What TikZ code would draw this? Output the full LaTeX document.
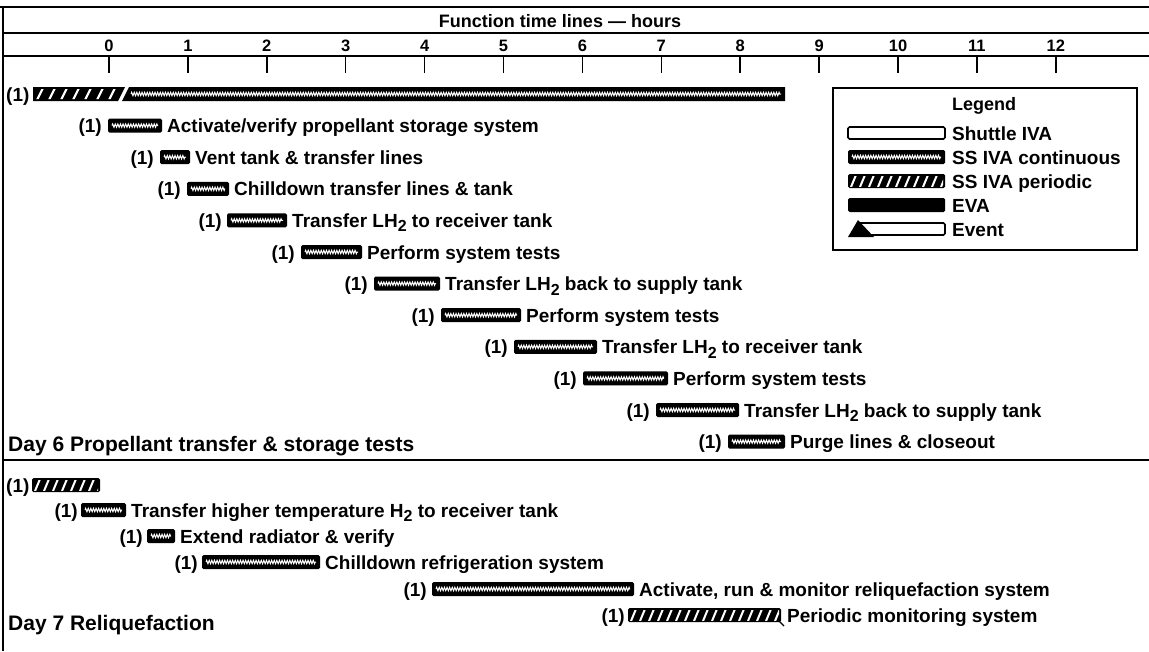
\documentclass[tikz,border=0pt]{standalone}
\usepackage{fontspec}
\setmainfont{Liberation Sans}
\usetikzlibrary{decorations.pathmorphing}
\newcommand\lowtwo{\raisebox{-0.45ex}{\fontsize{16}{16}\selectfont 2}}
\tikzset{
  rowtext/.style={anchor=base west, inner sep=0pt, font=\fontsize{19}{21}\selectfont\bfseries},
  onetext/.style={anchor=base east, inner sep=0pt, font=\fontsize{19}{21}\selectfont\bfseries},
  daytext/.style={anchor=base west, inner sep=0pt, font=\fontsize{21}{23}\selectfont\bfseries},
  numtext/.style={anchor=base, inner sep=0pt, font=\fontsize{16.5}{18}\selectfont\bfseries},
  legtext/.style={anchor=base west, inner sep=0pt, font=\fontsize{19}{21}\selectfont\bfseries},
  frameline/.style={line width=1.8pt},
}
% continuous bar: x1, x2, y
\newcommand\cbar[3]{%
  \fill[rounded corners=1.5pt] (#1,#3-7) rectangle (#2,#3+7);
  \draw[white,line width=1pt,decorate,decoration={zigzag,segment length=2.6pt,amplitude=1.7pt}]
     (#1+4,#3) -- (#2-4,#3);
}
% periodic bar: x1, x2, y
\newcommand\pbar[3]{%
  \fill[rounded corners=1.5pt] (#1,#3-7) rectangle (#2,#3+7);
  \begin{scope}
    \clip (#1+2,#3-5) rectangle (#2-2,#3+5);
    \pgfmathsetmacro\pa{#1+3}\pgfmathsetmacro\pb{#1+12}\pgfmathsetmacro\pc{#2}
    \foreach \xx in {\pa,\pb,...,\pc} \draw[white,line width=2pt] (\xx,#3+6) -- (\xx+5,#3-6);
  \end{scope}
}
% task row: name, gap before bar, bar start, bar end, y, text
\newcommand\task[6]{%
  \node[onetext] (#1l) at (#3-#2,#5+7) {(1)};
  \cbar{#3}{#4}{#5}
  \node[rowtext] (#1) at (#4+5,#5+7) {#6};
}
\begin{document}
\begin{tikzpicture}[x=1pt,y=-1pt]
\useasboundingbox (0,0) rectangle (1149,651);
% frame
\draw[line width=2.4pt] (0,7) -- (1149,7);
\draw[line width=2.4pt] (3,6) -- (3,651);
\draw[line width=1.2pt] (3,33) -- (1149,33);
\draw[frameline] (3,56) -- (1149,56);
\draw[frameline] (3,460) -- (1149,460);
\node[anchor=base, inner sep=0pt, font=\fontsize{18}{20}\selectfont\bfseries] (title) at (560,27) {Function time lines --- hours};
\foreach \h in {0,...,12} {
  \node[numtext] (n\h) at (109+78.9*\h,51) {\h};
  \draw[line width=1.5pt] (109+78.9*\h,56) -- (109+78.9*\h,73);
}
% row 1: periodic + continuous
\node[rowtext] (r1l) at (6,101) {(1)};
\fill (33,87) -- (125,87) -- (118,101) -- (33,101) -- cycle;
\begin{scope}
  \clip (35,89) -- (121,89) -- (115,99) -- (35,99) -- cycle;
  \foreach \xx in {37,49,...,121} \draw[white,line width=2.2pt] (\xx,100) -- (\xx+6,88);
\end{scope}
\fill (129,87) -- (785,87) -- (785,101) -- (122,101) -- cycle;
\draw[white,line width=1pt,decorate,decoration={zigzag,segment length=2.6pt,amplitude=1.7pt}] (131,94) -- (781,94);
% Day 6 tasks
\task{t1}{6}{108}{162}{125.6}{Activate/verify propellant storage system}
\task{t2}{6}{160}{190}{157.2}{Vent tank \& transfer lines}
\task{t3}{6}{187}{229}{188.8}{Chilldown transfer lines \& tank}
\task{t4}{5}{227}{287}{220.4}{Transfer LH\lowtwo{} to receiver tank}
\task{t5}{6}{301}{362}{252}{Perform system tests}
\task{t6}{6}{374}{440}{283.6}{Transfer LH\lowtwo{} back to supply tank}
\task{t7}{6}{441}{521}{315.2}{Perform system tests}
\task{t8}{6}{514}{597}{346.8}{Transfer LH\lowtwo{} to receiver tank}
\task{t9}{6}{583}{668}{378.4}{Perform system tests}
\task{t10}{6}{656}{739}{410}{Transfer LH\lowtwo{} back to supply tank}
\task{t11}{6}{728}{785}{441.6}{Purge lines \& closeout}
\node[daytext] (day6) at (8,451) {Day 6 Propellant transfer \& storage tests};
% legend
\draw[line width=1.6pt] (833,88) rectangle (1137,250);
\node[anchor=base west, inner sep=0pt, font=\fontsize{18}{20}\selectfont\bfseries] (legend) at (952,110) {Legend};
\draw[line width=1.6pt, rounded corners=1.5pt] (848,127) rectangle (945,139);
\node[legtext] (lg1) at (952,140) {Shuttle IVA};
\cbar{848}{945}{157}
\node[legtext] (lg2) at (952,164) {SS IVA continuous};
\pbar{848}{945}{181}
\node[legtext] (lg3) at (952,188) {SS IVA periodic};
\fill[rounded corners=1.5pt] (848,198) rectangle (945,212);
\node[legtext] (lg4) at (952,212) {EVA};
\draw[line width=1.6pt, rounded corners=1.5pt] (858,223) rectangle (945,235);
\fill (848,237) -- (858,220) -- (874,237) -- cycle;
\node[legtext] (lg5) at (952,236) {Event};
% Day 7
\node[rowtext] (p7l) at (6,492) {(1)};
\pbar{32}{100}{485}
\task{u1}{3}{81}{126}{510}{Transfer higher temperature H\lowtwo{} to receiver tank}
\task{u2}{4}{147}{175}{536}{Extend radiator \& verify}
\task{u3}{4}{202}{320}{562}{Chilldown refrigeration system}
\task{u4}{5}{432}{634}{589}{Activate, run \& monitor reliquefaction system}
\node[onetext] (u5l) at (625,622) {(1)};
\pbar{628}{781}{615}
\draw[line width=1.2pt] (779,621) -- (784,626);
\node[rowtext] (u5) at (787,622) {Periodic monitoring system};
\node[daytext] (day7) at (8,630) {Day 7 Reliquefaction};
\end{tikzpicture}
\end{document}
